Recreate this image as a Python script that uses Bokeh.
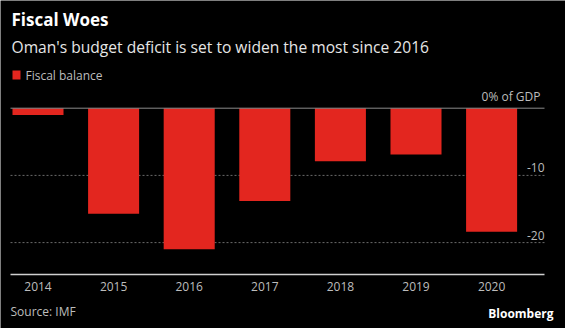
from bokeh.plotting import figure
from bokeh.models import Range1d, Label, BoxAnnotation, ColumnDataSource
from bokeh.core.properties import value
from bokeh.embed import file_html
from bokeh.resources import INLINE

years = ["2014", "2015", "2016", "2017", "2018", "2019", "2020"]
balance = [-1.0, -15.7, -21.0, -13.8, -7.9, -6.9, -18.4]
y_ticks = [-10, -20]
y_tick_labels = ["-10", "-20"]
y_floor = -24.75

FONT = "Open Sans"
RED = "#e3261f"
GREY = "#bdbdbd"

W, H = 565, 328
X0, DX = 37.5, 75.6      # pixel of first category, pixel step per category
Y0, DY = 107.7, 6.72     # pixel of zero, pixels per unit

def dx(px):
    return (px - X0) / DX

def dy(py):
    return (Y0 - py) / DY

p = figure(width=W, height=H, output_backend="svg", toolbar_location=None,
           x_range=Range1d(dx(0), dx(W)), y_range=Range1d(dy(H), dy(0)),
           x_axis_location=None, y_axis_location=None, min_border=0,
           background_fill_color="black", border_fill_color="black")
p.outline_line_color = None
p.grid.visible = False

left, right = dx(10), dx(544)

# dotted gridlines
p.segment(x0=[left] * len(y_ticks), x1=[right] * len(y_ticks), y0=y_ticks, y1=y_ticks,
          line_color="#6a6a6a", line_dash="2 2", line_width=1)

idx = list(range(len(years)))
src = ColumnDataSource(dict(x=idx, top=[0] * len(years), bottom=balance))
p.vbar(x="x", top="top", bottom="bottom", width=0.675, source=src,
       fill_color=RED, line_color=None)

# zero line and bottom axis line
p.segment(x0=[left], x1=[right], y0=[0], y1=[0], line_color="#8a8a8a", line_width=1)
p.segment(x0=[left], x1=[right], y0=[y_floor], y1=[y_floor], line_color="#cfcfcf", line_width=1.5)

# category labels
p.text(x=idx, y=[y_floor] * len(years), text=years, text_align="center",
       text_baseline="middle", y_offset=12, text_color=GREY,
       text_font=value(FONT), text_font_size="12px")

# value axis labels
p.text(x=[right] * len(y_ticks), y=y_ticks, text=y_tick_labels,
       text_align="right", text_baseline="bottom", y_offset=-3,
       text_color=GREY, text_font=value(FONT), text_font_size="12px")

def lab(text, cx, cy, size, color=GREY, bold=False, align="left"):
    p.add_layout(Label(x=cx, y=H - cy, x_units="screen", y_units="screen",
                       text=text, text_font=FONT, text_font_size=size,
                       text_color=color, text_align=align, text_baseline="middle",
                       text_font_style="bold" if bold else "normal"))

lab("Fiscal Woes", 11, 19, "17px", color="white", bold=True)
lab("Oman's budget deficit is set to widen the most since 2016", 11, 46, "15.6px", color="#e6e6e6")
p.add_layout(BoxAnnotation(left=12, right=20, top=H - 70, bottom=H - 79,
                           left_units="screen", right_units="screen",
                           top_units="screen", bottom_units="screen",
                           fill_color=RED, fill_alpha=1, line_color=None))
lab("Fiscal balance", 25, 75, "12px")
lab("0% of GDP", 540, 96, "12px", align="right")
lab("Source: IMF", 10, 311, "12px")
lab("Bloomberg", 553, 313, "12px", color="white", bold=True, align="right")

open("out.html", "w").write(file_html(p, INLINE))
